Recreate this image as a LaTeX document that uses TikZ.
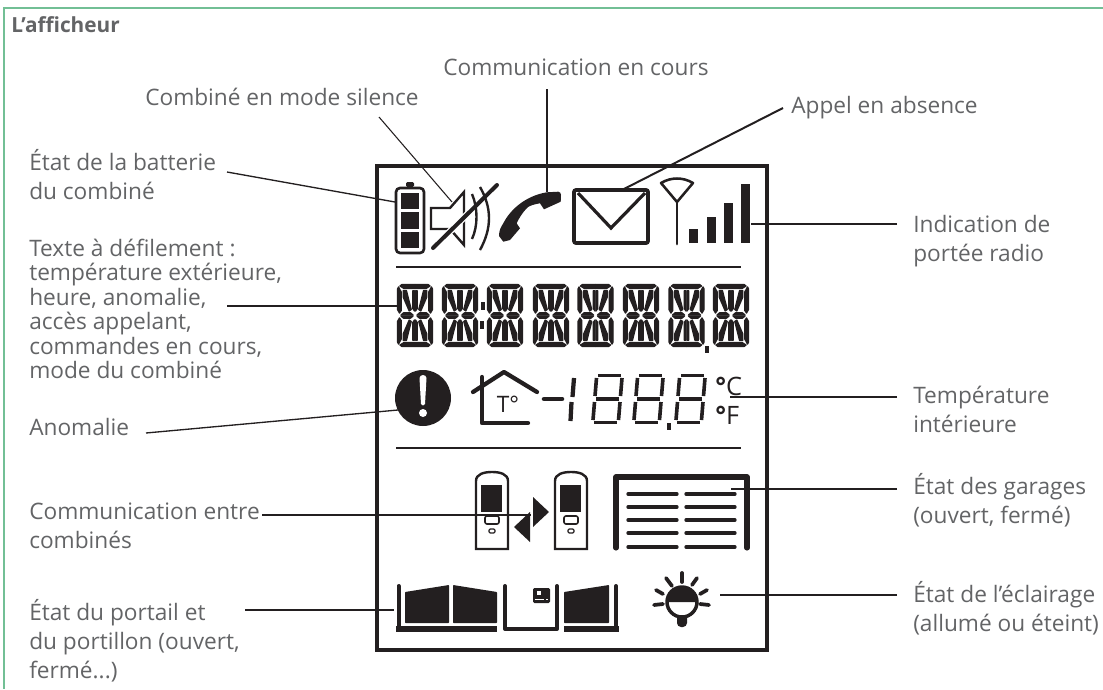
\documentclass[tikz,border=0pt]{standalone}
\usepackage{fontspec}
\setmainfont{Open Sans}
\definecolor{ink}{HTML}{231F20}
\definecolor{textgrey}{HTML}{636466}
\definecolor{framegreen}{HTML}{72BF95}
\tikzset{
  lbl/.style={anchor=west,align=left,inner sep=0pt,text=textgrey,font=\fontsize{17}{21.75}\selectfont},
  leader/.style={draw=ink,line width=1pt},
  leaderbold/.style={draw=ink,line width=1.5pt},
  icon/.style={draw=ink,line width=1.8pt},
  segpart/.style={fill=ink,draw=ink,line width=1pt,line join=round},
  ray/.style={draw=ink,line width=2.8pt,line cap=round},
  slat/.style={draw=ink,line width=2.5pt,line cap=round},
  segchar/.pic={
    \foreach \sx/\sy in {1/1,-1/1,1/-1,-1/-1} {
      \begin{scope}[xscale=\sx,yscale=\sy]
        \fill[segpart] (0,31) -- (13,31) -- (15,29.5) -- (11,27) -- (0,27) -- cycle;
        \fill[segpart] (17.5,26.5) -- (17.5,6) -- (15.5,2.5) -- (13.8,5) -- (13.8,23.5) -- (16.5,28.5) -- cycle;
        \fill[segpart] (2,.5) -- (4.5,2.6) -- (11.5,2.6) -- (14,.5) -- cycle;
        \fill[segpart] (.5,4.5) -- (2.2,7) -- (2.2,24.8) -- (.5,24.8) -- cycle;
        \fill[segpart] (3.8,6) -- (5.8,4.6) -- (11.8,18.5) -- (11.8,25) -- (8.6,25) -- cycle;
      \end{scope}
    }
  },
  sevenseg/.pic={
    \draw[ink,line width=2.7pt] (6,1.5) -- (29,1.5);
    \draw[ink,line width=3.4pt] (4,25) -- (27,25);
    \draw[ink,line width=2.7pt] (2,48.5) -- (25,48.5);
    \draw[ink,line width=2.7pt] (4.5,4) -- (3,22);
    \draw[ink,line width=2.7pt] (2.5,28) -- (1,46);
    \draw[ink,line width=2.7pt] (30,4) -- (28.5,22);
    \draw[ink,line width=2.7pt] (28,28) -- (26.5,46);
  },
  handset/.pic={
    \draw[icon] (0,77) -- (0,9) .. controls (0,2) and (8,0) .. (16,0) .. controls (24,0) and (32,2) .. (32,9) -- (32,77) -- cycle;
    \fill[ink] (5,13) rectangle (26,40);
    \draw[ink,line width=1.2pt,rounded corners=1.5pt] (9,44) rectangle (23,52);
    \draw[ink,line width=.9pt,rounded corners=1pt] (13,57) rectangle (19,61);
  },
  leaf/.style={fill=ink,rounded corners=.5pt}
}
\begin{document}
\begin{tikzpicture}[x=.75pt,y=-.75pt]
\useasboundingbox (0,0) rectangle (1103,689);

\draw[framegreen,line width=.9pt] (1103,8) -- (4,8) -- (4,689);
\node (titre) [lbl,anchor=base west,font=\fontsize{15.6}{18}\selectfont\bfseries] at (11,32) {L’afficheur};

\node (encours) [lbl] at (443,67) {Communication en cours};
\node (silence) [lbl] at (145,97) {Combiné en mode silence};
\node (absence) [lbl] at (791,108) {Appel en absence};
\node (batterie) [lbl] at (29,175) {État de la batterie\\du combiné};
\node (defil) [lbl,font=\fontsize{17}{18.4}\selectfont] at (29,309) {Texte à défilement :\\température extérieure,\\heure, anomalie,\\accès appelant,\\commandes en cours,\\mode du combiné};
\node (anomalie) [lbl] at (29,427) {Anomalie};
\node (entre) [lbl] at (29,526) {Communication entre\\combinés};
\node (portail) [lbl] at (29,641) {État du portail et\\du portillon (ouvert,\\fermé...)};
\node (portee) [lbl] at (913,241) {Indication de\\portée radio};
\node (tempint) [lbl] at (913,409) {Température\\intérieure};
\node (garages) [lbl] at (913,500) {État des garages\\(ouvert, fermé)};
\node (eclairage) [lbl] at (913,608) {État de l’éclairage\\(allumé ou éteint)};

\coordinate (b1) at (227,172);
\coordinate (b2) at (395,202);
\coordinate (s1) at (379,117);
\coordinate (s2) at (452,202);
\coordinate (c1) at (547,89);
\coordinate (c2) at (547,192);
\coordinate (a1) at (783,108);
\coordinate (a2) at (622,190);
\coordinate (p1) at (897,224);
\coordinate (p2) at (751,224);
\coordinate (d1) at (227,306);
\coordinate (d2) at (397,306);
\coordinate (n1) at (146,433);
\coordinate (n2) at (398,410);
\coordinate (t1) at (897,397);
\coordinate (t2) at (730,397);
\coordinate (e1) at (262,515);
\coordinate (e2) at (531,515);
\coordinate (g1) at (897,489);
\coordinate (g2) at (731,489);
\coordinate (o1) at (245,610);
\coordinate (o2) at (394,610);
\coordinate (l1) at (897,595);
\coordinate (l2) at (720,595);

\draw[ink,line width=2.6pt] (377,166) rectangle (767,650);

\draw[icon,line width=2pt,rounded corners=3pt] (396,188) rectangle (424,253);
\fill[ink,rounded corners=1pt] (406,182) rectangle (414,187);
\fill[ink] (401,193) rectangle (419,209);
\fill[ink] (401,212) rectangle (419,229);
\fill[ink] (401,232) rectangle (419,248);

\draw[icon] (431,208) -- (450,208) -- (464,192) -- (464,245) -- (450,229) -- (431,229) -- cycle;
\draw[white,line width=5pt] (433,248) -- (497,185);
\draw[ink,line width=3pt,line cap=round] (433,248) -- (497,185);
\draw[icon] (472,194) .. controls (478,208) and (478,226) .. (472,239);
\draw[icon] (480,187) .. controls (492,208) and (492,228) .. (480,250);

\fill[ink] (499,236) .. controls (499,230) and (501,227) .. (503.3,223.3) .. controls (510,210) and (525,196) .. (546.7,192.3) -- (558.3,191.7) .. controls (560,192) and (561,193) .. (561,195) -- (560.7,201.7) -- (544,209.3) -- (540,203.3) .. controls (535,204) and (528,206) .. (526.7,208.3) .. controls (523,212) and (519,218) .. (516.7,223.3) -- (520,228.3) -- (510,240) -- (503.3,241.7) -- cycle;

\draw[ink,line width=2.8pt,rounded corners=1.5pt] (574,190) rectangle (648,243);
\draw[ink,line width=2.4pt] (578,193) -- (611,228) -- (645,193);

\draw[ink,line width=1.9pt,line join=round] (661,183) .. controls (671,177) and (683,177) .. (693,183) -- (677,202) -- cycle;
\draw[ink,line width=2.1pt,line cap=round] (677,202) -- (677,244);
\fill[ink] (689,229) rectangle (698,243);
\fill[ink] (707,217) rectangle (716,243);
\fill[ink] (724,203) rectangle (733,243);
\fill[ink] (741,184) rectangle (750,243);

\draw[ink,line width=1.6pt] (396,267) -- (741,267);
\draw[ink,line width=1.6pt] (396,448) -- (741,448);

\foreach \cx in {415,460,505,551,595.5,641,686.5,731}
  \pic at (\cx,315.5) {segchar};
\fill[ink] (481,302) rectangle (485,310);
\fill[ink] (480,321) rectangle (484,329);
\fill[ink] (705,346) rectangle (709,353);

\fill[ink] (423,398) circle (28);
\fill[white] (419.5,378) .. controls (420,374) and (426,374) .. (426.5,378) -- (425,404) .. controls (424.5,406) and (421.5,406) .. (421,404) -- cycle;
\fill[white] (423,413) circle (4);

\draw[ink,line width=3.2pt,line cap=round,line join=round] (482,377) -- (482,423) -- (528,423);
\draw[ink,line width=3.2pt,line cap=round,line join=round] (473,392) -- (504,372) -- (537,392);
\node (tdeg) [inner sep=0pt,text=ink,font=\fontsize{17}{19}\selectfont] at (508,404) {T°};

\draw[ink,line width=3.4pt,line cap=round] (544,399) -- (562,399);
\draw[ink,line width=3.2pt] (574,378) -- (572.5,397);
\draw[ink,line width=3.2pt] (571.5,402) -- (570.5,421);
\foreach \dx in {592,633,675}
  \pic at (\dx,374) {sevenseg};
\fill[ink] (667,423) rectangle (671,430);
\node (cels) [inner sep=0pt,anchor=west,text=ink,font=\fontsize{19}{21}\selectfont] at (715,386) {{\bfseries °}C};
\node (fahr) [inner sep=0pt,anchor=west,text=ink,font=\fontsize{19}{21}\selectfont] at (715,415) {{\bfseries °}F};

\pic at (476,472) {handset};
\pic at (555,472) {handset};
\fill[ink] (533,497) -- (549,512) -- (533,527) -- cycle;
\fill[ink] (530,512) -- (514,527) -- (530,542) -- cycle;

\draw[ink,line width=3.8pt,line cap=round,line join=round] (616,548) -- (616,477) -- (747,477) -- (747,548);
\foreach \sy in {494,507,520,533,547} {
  \draw[slat] (628,\sy) -- (677,\sy);
  \draw[slat] (686,\sy) -- (735,\sy);
}

\draw[ink,line width=3pt,line cap=round] (398.5,586) -- (398.5,627);
\fill[ink] (396,626) rectangle (497,632);
\fill[leaf] (405,592) -- (449,585) -- (449,623) -- (405,623) -- cycle;
\fill[leaf] (453,585) -- (497,592) -- (497,623) -- (453,623) -- cycle;
\draw[ink,line width=3pt,line cap=round,line join=round] (505,586) -- (505,629) -- (557,629) -- (557,586);
\fill[ink,rounded corners=1pt] (533,588) rectangle (550,603);
\fill[white] (537,591) rectangle (541,594.5);
\draw[white,line width=.7pt] (534.5,599) -- (544,599);
\fill[white] (546,598.5) rectangle (548,600);
\fill[leaf] (564,592) -- (609,585) -- (609,623) -- (564,623) -- cycle;
\fill[ink] (564,626) rectangle (619,632);
\draw[ink,line width=3pt,line cap=round] (616,586) -- (616,627);

\fill[ink,rounded corners=3pt] (677,612) rectangle (687,627);
\draw[ink,fill=white,line width=2.6pt] (682,602) circle (15);
\fill[ink] (667,602) arc (180:360:15) -- cycle;
\draw[ray] (682,573) -- (682,582);
\draw[ray] (666,578) -- (672,586);
\draw[ray] (697,578) -- (692,585);
\draw[ray] (656,590) -- (663,594);
\draw[ray] (707,590) -- (700,594);
\draw[ray] (654,605) -- (663,604);
\draw[ray] (709,605) -- (700,604);

\draw[leader] (b1) -- (b2);
\draw[leader,line width=.8pt] (s1) -- (s2);
\draw[leaderbold] (c1) -- (c2);
\draw[leaderbold] (a1) -- (a2);
\draw[leaderbold] (p1) -- (p2);
\draw[leader] (d1) -- (d2);
\draw[leader] (n1) -- (n2);
\draw[leaderbold] (t1) -- (t2);
\draw[leaderbold] (e1) -- (e2);
\draw[leaderbold] (g1) -- (g2);
\draw[leaderbold] (o1) -- (o2);
\draw[leaderbold] (l1) -- (l2);
\end{tikzpicture}
\end{document}
